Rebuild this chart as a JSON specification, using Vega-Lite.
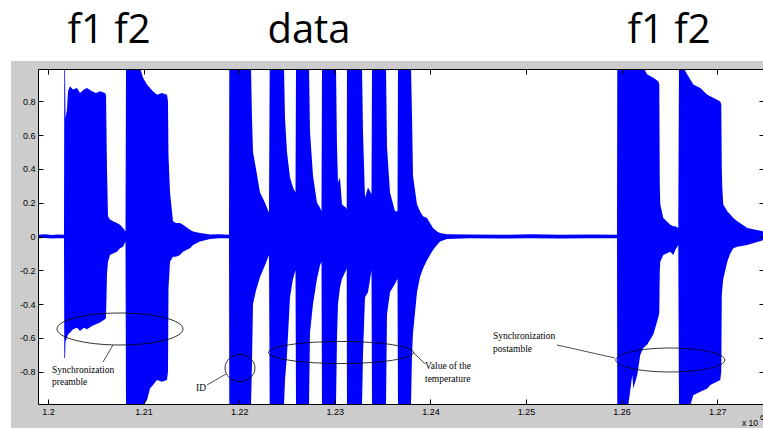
{
  "$schema": "https://vega.github.io/schema/vega-lite/v6.json",
  "width": 726,
  "height": 335,
  "autosize": {"type": "none"},
  "padding": {"left": 38, "top": 69, "right": 0, "bottom": 24},
  "background": "white",
  "config": {"view": {"stroke": null}},
  "datasets": {
    "wave": [
      {"x": 1.198954, "hi": 0.01, "lo": -0.01},
      {"x": 1.19968, "hi": 0.013, "lo": -0.009},
      {"x": 1.20042, "hi": 0.009, "lo": -0.012},
      {"x": 1.20105, "hi": 0.012, "lo": -0.01},
      {"x": 1.201674, "hi": 0.01, "lo": -0.01},
      {"x": 1.201705, "hi": 1, "lo": -0.72},
      {"x": 1.201778, "hi": 1, "lo": -0.72},
      {"x": 1.201831, "hi": 0.70, "lo": -0.62},
      {"x": 1.201987, "hi": 0.75, "lo": -0.60},
      {"x": 1.202092, "hi": 0.86, "lo": -0.58},
      {"x": 1.202301, "hi": 0.89, "lo": -0.57},
      {"x": 1.202615, "hi": 0.87, "lo": -0.55},
      {"x": 1.203033, "hi": 0.88, "lo": -0.54},
      {"x": 1.203347, "hi": 0.85, "lo": -0.56},
      {"x": 1.203766, "hi": 0.87, "lo": -0.54},
      {"x": 1.204079, "hi": 0.88, "lo": -0.55},
      {"x": 1.204602, "hi": 0.86, "lo": -0.53},
      {"x": 1.205021, "hi": 0.85, "lo": -0.52},
      {"x": 1.205439, "hi": 0.86, "lo": -0.51},
      {"x": 1.205962, "hi": 0.85, "lo": -0.49},
      {"x": 1.206067, "hi": 0.84, "lo": -0.48},
      {"x": 1.206171, "hi": 0.40, "lo": -0.22},
      {"x": 1.206276, "hi": 0.12, "lo": -0.15},
      {"x": 1.206485, "hi": 0.10, "lo": -0.11},
      {"x": 1.206799, "hi": 0.09, "lo": -0.10},
      {"x": 1.207217, "hi": 0.08, "lo": -0.09},
      {"x": 1.207531, "hi": 0.07, "lo": -0.07},
      {"x": 1.207845, "hi": 0.05, "lo": -0.06},
      {"x": 1.208107, "hi": 0.03, "lo": -0.03},
      {"x": 1.208159, "hi": 1, "lo": -1},
      {"x": 1.209623, "hi": 1, "lo": -1},
      {"x": 1.209937, "hi": 0.94, "lo": -1},
      {"x": 1.210355, "hi": 0.90, "lo": -0.97},
      {"x": 1.210669, "hi": 0.88, "lo": -0.90},
      {"x": 1.210983, "hi": 0.86, "lo": -0.88},
      {"x": 1.211401, "hi": 0.84, "lo": -0.85},
      {"x": 1.211924, "hi": 0.85, "lo": -0.86},
      {"x": 1.212447, "hi": 0.84, "lo": -0.85},
      {"x": 1.212552, "hi": 0.80, "lo": -0.80},
      {"x": 1.212604, "hi": 0.48, "lo": -0.31},
      {"x": 1.212761, "hi": 0.26, "lo": -0.15},
      {"x": 1.213075, "hi": 0.09, "lo": -0.12},
      {"x": 1.213389, "hi": 0.08, "lo": -0.12},
      {"x": 1.213807, "hi": 0.08, "lo": -0.11},
      {"x": 1.214121, "hi": 0.07, "lo": -0.09},
      {"x": 1.214853, "hi": 0.04, "lo": -0.07},
      {"x": 1.215167, "hi": 0.03, "lo": -0.05},
      {"x": 1.215899, "hi": 0.02, "lo": -0.03},
      {"x": 1.216945, "hi": 0.012, "lo": -0.015},
      {"x": 1.217887, "hi": 0.013, "lo": -0.01},
      {"x": 1.218933, "hi": 0.01, "lo": -0.01},
      {"x": 1.218965, "hi": 1, "lo": -1},
      {"x": 1.221234, "hi": 1, "lo": -1},
      {"x": 1.221338, "hi": 0.70, "lo": -0.75},
      {"x": 1.221443, "hi": 0.50, "lo": -0.40},
      {"x": 1.221757, "hi": 0.40, "lo": -0.32},
      {"x": 1.222175, "hi": 0.26, "lo": -0.24},
      {"x": 1.222698, "hi": 0.20, "lo": -0.17},
      {"x": 1.223117, "hi": 0.14, "lo": -0.11},
      {"x": 1.223190, "hi": 1, "lo": -1},
      {"x": 1.224686, "hi": 1, "lo": -1},
      {"x": 1.224790, "hi": 0.70, "lo": -0.85},
      {"x": 1.224999, "hi": 0.50, "lo": -0.70},
      {"x": 1.225313, "hi": 0.35, "lo": -0.36},
      {"x": 1.225627, "hi": 0.29, "lo": -0.25},
      {"x": 1.225889, "hi": 0.26, "lo": -0.20},
      {"x": 1.225941, "hi": 1, "lo": -1},
      {"x": 1.227301, "hi": 1, "lo": -1},
      {"x": 1.227405, "hi": 0.62, "lo": -0.57},
      {"x": 1.227719, "hi": 0.36, "lo": -0.40},
      {"x": 1.228137, "hi": 0.20, "lo": -0.25},
      {"x": 1.228451, "hi": 0.17, "lo": -0.17},
      {"x": 1.228608, "hi": 0.15, "lo": -0.15},
      {"x": 1.228660, "hi": 1, "lo": -1},
      {"x": 1.230125, "hi": 1, "lo": -1},
      {"x": 1.230229, "hi": 0.53, "lo": -0.60},
      {"x": 1.230334, "hi": 0.32, "lo": -0.40},
      {"x": 1.230543, "hi": 0.35, "lo": -0.30},
      {"x": 1.230752, "hi": 0.19, "lo": -0.25},
      {"x": 1.231171, "hi": 0.17, "lo": -0.20},
      {"x": 1.231244, "hi": 0.16, "lo": -0.19},
      {"x": 1.231275, "hi": 1, "lo": -1},
      {"x": 1.232844, "hi": 1, "lo": -1},
      {"x": 1.232948, "hi": 0.62, "lo": -0.70},
      {"x": 1.233158, "hi": 0.23, "lo": -0.36},
      {"x": 1.233472, "hi": 0.29, "lo": -0.33},
      {"x": 1.233838, "hi": 0.25, "lo": -0.20},
      {"x": 1.233890, "hi": 1, "lo": -1},
      {"x": 1.235355, "hi": 1, "lo": -1},
      {"x": 1.235459, "hi": 0.53, "lo": -0.46},
      {"x": 1.235773, "hi": 0.26, "lo": -0.33},
      {"x": 1.236296, "hi": 0.15, "lo": -0.28},
      {"x": 1.236558, "hi": 0.15, "lo": -0.25},
      {"x": 1.236610, "hi": 1, "lo": -1},
      {"x": 1.237970, "hi": 1, "lo": -1},
      {"x": 1.238074, "hi": 0.72, "lo": -0.70},
      {"x": 1.238179, "hi": 0.36, "lo": -0.57},
      {"x": 1.238597, "hi": 0.19, "lo": -0.33},
      {"x": 1.238911, "hi": 0.15, "lo": -0.24},
      {"x": 1.239225, "hi": 0.12, "lo": -0.19},
      {"x": 1.239643, "hi": 0.11, "lo": -0.14},
      {"x": 1.239957, "hi": 0.08, "lo": -0.11},
      {"x": 1.240271, "hi": 0.05, "lo": -0.08},
      {"x": 1.240689, "hi": 0.03, "lo": -0.05},
      {"x": 1.241003, "hi": 0.02, "lo": -0.03},
      {"x": 1.241735, "hi": 0.013, "lo": -0.015},
      {"x": 1.244141, "hi": 0.012, "lo": -0.01},
      {"x": 1.247279, "hi": 0.01, "lo": -0.012},
      {"x": 1.250417, "hi": 0.013, "lo": -0.01},
      {"x": 1.253555, "hi": 0.01, "lo": -0.012},
      {"x": 1.256693, "hi": 0.012, "lo": -0.01},
      {"x": 1.259517, "hi": 0.01, "lo": -0.01},
      {"x": 1.259549, "hi": 1, "lo": -1},
      {"x": 1.260699, "hi": 1, "lo": -1},
      {"x": 1.261117, "hi": 1, "lo": -0.82},
      {"x": 1.261221, "hi": 1, "lo": -0.90},
      {"x": 1.261639, "hi": 1, "lo": -0.82},
      {"x": 1.261953, "hi": 1, "lo": -0.70},
      {"x": 1.262267, "hi": 1, "lo": -0.66},
      {"x": 1.262685, "hi": 0.96, "lo": -0.64},
      {"x": 1.263313, "hi": 0.94, "lo": -0.58},
      {"x": 1.263836, "hi": 0.92, "lo": -0.48},
      {"x": 1.263941, "hi": 0.90, "lo": -0.45},
      {"x": 1.263993, "hi": 0.30, "lo": -0.20},
      {"x": 1.264045, "hi": 0.19, "lo": -0.15},
      {"x": 1.264359, "hi": 0.11, "lo": -0.11},
      {"x": 1.265091, "hi": 0.07, "lo": -0.09},
      {"x": 1.265405, "hi": 0.06, "lo": -0.11},
      {"x": 1.265614, "hi": 0.06, "lo": -0.08},
      {"x": 1.265928, "hi": 0.05, "lo": -0.05},
      {"x": 1.266001, "hi": 1, "lo": -1},
      {"x": 1.266451, "hi": 1, "lo": -1},
      {"x": 1.266869, "hi": 0.96, "lo": -1},
      {"x": 1.267183, "hi": 0.93, "lo": -1},
      {"x": 1.267497, "hi": 0.90, "lo": -0.94},
      {"x": 1.268229, "hi": 0.88, "lo": -0.92},
      {"x": 1.268961, "hi": 0.84, "lo": -0.90},
      {"x": 1.269275, "hi": 0.83, "lo": -0.88},
      {"x": 1.270321, "hi": 0.80, "lo": -0.85},
      {"x": 1.270426, "hi": 0.78, "lo": -0.80},
      {"x": 1.270478, "hi": 0.40, "lo": -0.35},
      {"x": 1.270530, "hi": 0.29, "lo": -0.31},
      {"x": 1.270635, "hi": 0.19, "lo": -0.25},
      {"x": 1.271053, "hi": 0.15, "lo": -0.15},
      {"x": 1.271367, "hi": 0.13, "lo": -0.10},
      {"x": 1.271681, "hi": 0.11, "lo": -0.07},
      {"x": 1.272099, "hi": 0.09, "lo": -0.06},
      {"x": 1.273145, "hi": 0.05, "lo": -0.05},
      {"x": 1.274894, "hi": 0.03, "lo": -0.02}
    ],
    "leaders": [
      {"x": 1.206799, "y": -0.6426, "x2": 1.205753, "y2": -0.7433},
      {"x": 1.216631, "y": -0.8795, "x2": 1.218619, "y2": -0.8143},
      {"x": 1.238179, "y": -0.6840, "x2": 1.239434, "y2": -0.7551},
      {"x": 1.253241, "y": -0.6426, "x2": 1.259308, "y2": -0.7196}
    ],
    "notes": [
      {"x": 1.200418, "y": -0.7906, "text": "Synchronization"},
      {"x": 1.200418, "y": -0.8617, "text": "preamble"},
      {"x": 1.215481, "y": -0.8972, "text": "ID"},
      {"x": 1.239434, "y": -0.7670, "text": "Value of the"},
      {"x": 1.239434, "y": -0.8439, "text": "temperature"},
      {"x": 1.246547, "y": -0.5893, "text": "Synchronization"},
      {"x": 1.246547, "y": -0.6663, "text": "postamble"}
    ],
    "headers": [
      {"x": 1.206381, "y": 1.146, "text": "f1 f2"},
      {"x": 1.227301, "y": 1.146, "text": "data"},
      {"x": 1.264954, "y": 1.146, "text": "f1 f2"}
    ]
  },
  "resolve": {"axis": {"x": "independent", "y": "independent"}},
  "layer": [
    {
      "data": {"values": [{}]},
      "mark": {"type": "rect", "fill": "#cccccc", "clip": false},
      "encoding": {
        "x": {"datum": 1.19613, "type": "quantitative", "axis": null, "scale": {"domain": [1.198954, 1.274894], "nice": false, "zero": false}},
        "x2": {"datum": 1.2800},
        "y": {"datum": 1.0394, "type": "quantitative", "axis": null, "scale": {"domain": [-0.992, 0.992], "nice": false, "zero": false}},
        "y2": {"datum": -1.2052}
      }
    },
    {
      "data": {"values": [{}]},
      "mark": {"type": "rect", "fill": "white", "clip": false},
      "encoding": {
        "x": {"datum": 1.198954, "type": "quantitative", "axis": null},
        "x2": {"datum": 1.274894},
        "y": {"datum": 0.992, "type": "quantitative", "axis": null},
        "y2": {"datum": -0.992}
      }
    },
    {
      "data": {"name": "wave"},
      "mark": {"type": "area", "color": "#0000ff", "clip": true, "interpolate": "linear"},
      "encoding": {
        "x": {
          "field": "x", "type": "quantitative",
          "axis": {"orient": "bottom", "values": [1.2, 1.21, 1.22, 1.23, 1.24, 1.25, 1.26, 1.27], "labelExpr": "toString(datum.value)", "tickSize": -5, "labelPadding": 8, "domainColor": "#000000", "tickColor": "#000000", "labelColor": "#000000", "labelFont": "Liberation Sans", "labelFontSize": 9, "grid": false, "title": null, "zindex": 1, "labelFlush": false, "labelOverlap": false}
        },
        "y": {
          "field": "hi", "type": "quantitative",
          "axis": {"orient": "left", "values": [-0.8, -0.6, -0.4, -0.2, 0, 0.2, 0.4, 0.6, 0.8], "labelExpr": "toString(datum.value)", "tickSize": -5, "labelPadding": 8, "domainColor": "#000000", "tickColor": "#000000", "labelColor": "#000000", "labelFont": "Liberation Sans", "labelFontSize": 9, "grid": false, "title": null, "zindex": 1, "labelOverlap": false}
        },
        "y2": {"field": "lo"}
      }
    },
    {
      "data": {"values": [{}]},
      "mark": {"type": "point", "shape": "M-1,0A1,0.254,0,1,1,1,0A1,0.254,0,1,1,-1,0Z", "size": 15876, "filled": false, "stroke": "#000000", "strokeWidth": 0.8, "opacity": 1, "clip": false},
      "encoding": {
        "x": {"datum": 1.207531, "type": "quantitative", "axis": null},
        "y": {"datum": -0.5478, "type": "quantitative", "axis": null}
      }
    },
    {
      "data": {"values": [{}]},
      "mark": {"type": "point", "shape": "M-1,0A1,0.9,0,1,1,1,0A1,0.9,0,1,1,-1,0Z", "size": 900, "filled": false, "stroke": "#000000", "strokeWidth": 0.8, "opacity": 1, "clip": false},
      "encoding": {
        "x": {"datum": 1.220083, "type": "quantitative", "axis": null},
        "y": {"datum": -0.7788, "type": "quantitative", "axis": null}
      }
    },
    {
      "data": {"values": [{}]},
      "mark": {"type": "point", "shape": "M-1,0A1,0.152,0,1,1,1,0A1,0.152,0,1,1,-1,0Z", "size": 21025, "filled": false, "stroke": "#000000", "strokeWidth": 0.8, "opacity": 1, "clip": false},
      "encoding": {
        "x": {"datum": 1.230648, "type": "quantitative", "axis": null},
        "y": {"datum": -0.6870, "type": "quantitative", "axis": null}
      }
    },
    {
      "data": {"values": [{}]},
      "mark": {"type": "point", "shape": "M-1,0A1,0.22,0,1,1,1,0A1,0.22,0,1,1,-1,0Z", "size": 11881, "filled": false, "stroke": "#000000", "strokeWidth": 0.8, "opacity": 1, "clip": false},
      "encoding": {
        "x": {"datum": 1.265091, "type": "quantitative", "axis": null},
        "y": {"datum": -0.7314, "type": "quantitative", "axis": null}
      }
    },
    {
      "data": {"name": "leaders"},
      "mark": {"type": "rule", "stroke": "#000000", "strokeWidth": 0.7, "clip": false},
      "encoding": {
        "x": {
          "field": "x", "type": "quantitative",
          "axis": {"orient": "top", "values": [1.2, 1.21, 1.22, 1.23, 1.24, 1.25, 1.26, 1.27], "labels": false, "tickSize": -5, "domainColor": "#000000", "tickColor": "#000000", "grid": false, "title": null, "zindex": 1}
        },
        "x2": {"field": "x2"},
        "y": {
          "field": "y", "type": "quantitative",
          "axis": {"orient": "right", "values": [-0.8, -0.6, -0.4, -0.2, 0, 0.2, 0.4, 0.6, 0.8], "labels": false, "tickSize": -5, "domainColor": "#000000", "tickColor": "#000000", "grid": false, "title": null, "zindex": 1}
        },
        "y2": {"field": "y2"}
      }
    },
    {
      "data": {"name": "notes"},
      "mark": {"type": "text", "font": "Liberation Serif", "fontSize": 9.5, "align": "left", "baseline": "middle", "color": "#000000", "clip": false},
      "encoding": {
        "x": {"field": "x", "type": "quantitative", "axis": null},
        "y": {"field": "y", "type": "quantitative", "axis": null},
        "text": {"field": "text"}
      }
    },
    {
      "data": {"name": "headers"},
      "mark": {"type": "text", "font": "Open Sans", "fontSize": 40, "align": "center", "baseline": "alphabetic", "color": "#000000", "clip": false},
      "encoding": {
        "x": {"field": "x", "type": "quantitative", "axis": null},
        "y": {"field": "y", "type": "quantitative", "axis": null},
        "text": {"field": "text"}
      }
    },
    {
      "data": {"values": [{"x": 1.272592, "y": -1.1045, "text": "x 10"}]},
      "mark": {"type": "text", "font": "Liberation Sans", "fontSize": 8.5, "align": "left", "baseline": "middle", "color": "#000000", "clip": false},
      "encoding": {
        "x": {"field": "x", "type": "quantitative", "axis": null},
        "y": {"field": "y", "type": "quantitative", "axis": null},
        "text": {"field": "text"}
      }
    },
    {
      "data": {"values": [{"x": 1.274475, "y": -1.0749, "text": "6"}]},
      "mark": {"type": "text", "font": "Liberation Sans", "fontSize": 6.5, "align": "left", "baseline": "middle", "color": "#000000", "clip": false},
      "encoding": {
        "x": {"field": "x", "type": "quantitative", "axis": null},
        "y": {"field": "y", "type": "quantitative", "axis": null},
        "text": {"field": "text"}
      }
    }
  ]
}
